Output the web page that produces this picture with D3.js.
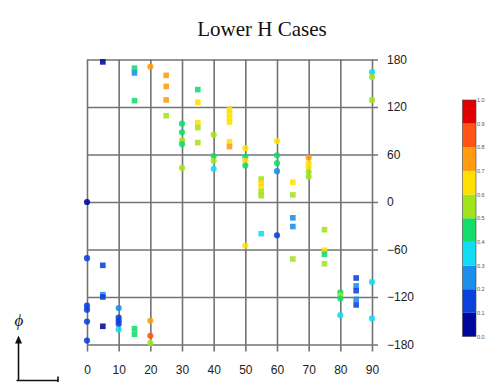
<!DOCTYPE html>
<html>
<head>
<meta charset="utf-8">
<script src="https://cdn.jsdelivr.net/npm/d3@7/dist/d3.min.js"></script>
<style>
  html, body { margin: 0; padding: 0; background: #fff; }
  svg { display: block; }
</style>
</head>
<body>
<svg id="chart" width="486" height="383"></svg>
<script>
// Dihedral angle (theta) of each case, its phi angle and the colour-coded value
const theta = [
  0, 0, 0, 0, 0, 0,
  5, 5, 5, 5, 5,
  10, 10, 10, 10, 10,
  15, 15, 15, 15, 15,
  20, 20, 20, 20,
  25, 25, 25, 25,
  30, 30, 30, 30, 30,
  35, 35, 35, 35, 35,
  40, 40, 40, 40,
  45, 45, 45, 45, 45, 45,
  50, 50, 50, 50, 50,
  55, 55, 55, 55, 55, 55,
  60, 60, 60, 60, 60,
  65, 65, 65, 65, 65,
  70, 70, 70, 70, 70,
  75, 75, 75, 75,
  80, 80, 80, 80,
  85, 85, 85, 85, 85,
  90, 90, 90, 90, 90
];
const phi = [
  0, -71, -131, -136, -151, -175,
  177, -80, -117, -120, -157,
  -134, -146, -150, -154, -161,
  169, 163, 128, -160, -167,
  171, -150, -169, -178,
  160, 146, 129, 109,
  99, 88, 78, 73, 43,
  142, 126, 100, 94, 75,
  85, 58, 52, 42,
  117, 112, 106, 101, 76, 70,
  68, 57, 52, 46, -55,
  29, 24, 19, 13, 8, -40,
  77, 59, 49, 39, -42,
  25, 9, -20, -31, -72,
  56, 49, 44, 38, 32,
  -35, -61, -66, -78,
  -114, -118, -122, -143,
  -96, -106, -112, -123, -130,
  164, 158, 129, -101, -147
];
const value = [
  0.05, 0.15, 0.15, 0.15, 0.15, 0.15,
  0.05, 0.15, 0.28, 0.15, 0.05,
  0.25, 0.15, 0.15, 0.15, 0.35,
  0.45, 0.25, 0.45, 0.45, 0.45,
  0.75, 0.75, 0.85, 0.55,
  0.75, 0.75, 0.75, 0.55,
  0.45, 0.45, 0.55, 0.45, 0.55,
  0.45, 0.65, 0.65, 0.55, 0.55,
  0.55, 0.45, 0.55, 0.35,
  0.65, 0.65, 0.65, 0.65, 0.65, 0.75,
  0.65, 0.45, 0.65, 0.45, 0.65,
  0.55, 0.65, 0.65, 0.55, 0.55, 0.35,
  0.65, 0.45, 0.45, 0.25, 0.15,
  0.65, 0.55, 0.25, 0.25, 0.55,
  0.75, 0.65, 0.65, 0.55, 0.55,
  0.55, 0.65, 0.45, 0.55,
  0.45, 0.55, 0.45, 0.35,
  0.15, 0.25, 0.15, 0.25, 0.15,
  0.35, 0.55, 0.55, 0.35, 0.35
];

const xTicks = [0, 10, 20, 30, 40, 50, 60, 70, 80, 90];
const yTicks = [180, 120, 60, 0, -60, -120, -180];
const barTicks = [0.0, 0.1, 0.2, 0.3, 0.4, 0.5, 0.6, 0.7, 0.8, 0.9, 1.0];
const palette = ["#00089c", "#0a40dc", "#1a90ec", "#12dcf4", "#12dc6a",
                 "#a2e41c", "#ffe000", "#ff9c12", "#ff5414", "#e00000"];

const svg = d3.select("#chart");

const x = d3.scaleLinear().domain([0, 90]).range([87, 372]);
const y = d3.scaleLinear().domain([-180, 180]).range([344.5, 59.5]);
const color = d3.scaleQuantize().domain([0, 1]).range(palette);

const gridColor = "#737373";

// vertical grid lines with ticks below and labels
const xAxis = d3.axisBottom(x)
  .tickValues(xTicks)
  .tickSize(-(y(-180) - y(180) + 7))
  .tickPadding(14)
  .tickFormat(d3.format("d"));
const gx = svg.append("g")
  .attr("transform", `translate(0,${y(-180) + 7})`)
  .call(xAxis);
gx.select(".domain").remove();
gx.selectAll(".tick line").attr("stroke", gridColor).attr("stroke-width", 1.6);
gx.selectAll(".tick text")
  .attr("fill", "#222")
  .style("font-family", "Liberation Sans, Arial, sans-serif")
  .style("font-size", "12px");

// horizontal grid lines with ticks to the right and labels
const yAxis = d3.axisRight(y)
  .tickValues(yTicks)
  .tickSize(-(x(90) - x(0) + 6))
  .tickPadding(9)
  .tickFormat(d3.format("d"));
const gy = svg.append("g")
  .attr("transform", `translate(${x(90) + 6},0)`)
  .call(yAxis);
gy.select(".domain").remove();
gy.selectAll(".tick line").attr("stroke", gridColor).attr("stroke-width", 1.6);
gy.selectAll(".tick text")
  .attr("fill", "#222")
  .style("font-family", "Liberation Sans, Arial, sans-serif")
  .style("font-size", "12px");

// data points: circles on the 10-degree lines, squares in between
const pts = theta.map((t, i) => ({ t, p: phi[i], v: value[i] }));
const marks = svg.append("g");
marks.selectAll("circle")
  .data(pts.filter(d => d.t % 10 === 0))
  .join("circle")
  .attr("cx", d => x(d.t))
  .attr("cy", d => y(d.p))
  .attr("r", 3.1)
  .attr("fill", d => color(d.v))
  .attr("fill-opacity", 0.88);
const sq = 5.6;
marks.selectAll("rect")
  .data(pts.filter(d => d.t % 10 !== 0))
  .join("rect")
  .attr("x", d => x(d.t) - sq / 2)
  .attr("y", d => y(d.p) - sq / 2)
  .attr("width", sq)
  .attr("height", sq)
  .attr("fill", d => color(d.v))
  .attr("fill-opacity", 0.88);

// title
svg.append("text")
  .attr("x", 262)
  .attr("y", 36)
  .attr("text-anchor", "middle")
  .style("font-family", "Liberation Serif, Times New Roman, serif")
  .style("font-size", "21px")
  .attr("fill", "#111")
  .text("Lower H Cases");

// colour bar
const cb = d3.scaleLinear().domain([0, 1]).range([336.5, 100]);
const gcb = svg.append("g");
gcb.selectAll("rect")
  .data(palette)
  .join("rect")
  .attr("x", 462.5)
  .attr("y", (c, i) => cb((i + 1) / 10))
  .attr("width", 13.5)
  .attr("height", (c, i) => cb(i / 10) - cb((i + 1) / 10))
  .attr("fill", c => c);
gcb.append("rect")
  .attr("x", 462.5).attr("y", cb(1))
  .attr("width", 13.5).attr("height", cb(0) - cb(1))
  .attr("fill", "none").attr("stroke", "#444").attr("stroke-width", 0.6);
gcb.selectAll("text")
  .data(barTicks)
  .join("text")
  .attr("x", 477)
  .attr("y", d => cb(d) + 2)
  .style("font-family", "Liberation Sans, Arial, sans-serif")
  .style("font-size", "5.5px")
  .attr("fill", "#555")
  .text(d => d.toFixed(1));

// phi axis key
svg.append("text")
  .attr("x", 19)
  .attr("y", 326)
  .attr("text-anchor", "middle")
  .style("font-family", "Liberation Serif, Times New Roman, serif")
  .style("font-style", "italic")
  .style("font-size", "17px")
  .attr("fill", "#111")
  .text("ϕ");
const key = svg.append("g").attr("stroke", "#111").attr("stroke-width", 1.6).attr("fill", "none");
key.append("path").attr("d", "M18.5,380.5V341 M16.5,380.5H58 M58,376.5V382");
svg.append("path")
  .attr("d", "M18.5,335.5L15,343.5L22,343.5Z")
  .attr("fill", "#111");
</script>
</body>
</html>
